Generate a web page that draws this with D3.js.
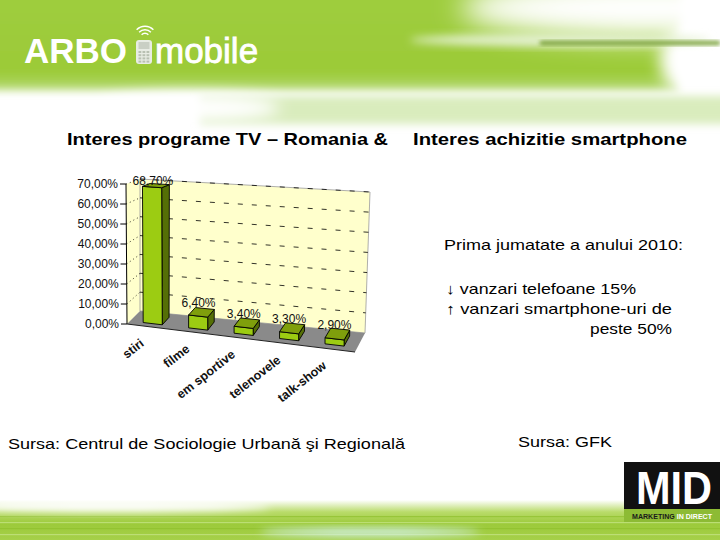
<!DOCTYPE html>
<html>
<head>
<meta charset="utf-8">
<script src="https://cdn.jsdelivr.net/npm/d3@7"></script>
<style>
  html, body { margin: 0; padding: 0; background: #fff; }
  svg { display: block; font-family: "Liberation Sans", Arial, sans-serif; }
</style>
</head>
<body>
<svg id="chart" width="720" height="540"></svg>
<script>
// ---------- data ----------
const categories = ["stiri", "filme", "em sportive", "telenovele", "talk-show"];
const values = [68.7, 6.4, 3.4, 3.3, 2.9];
const valueLabels = ["68,70%", "6,40%", "3,40%", "3,30%", "2,90%"];
const yTickValues = [0, 10, 20, 30, 40, 50, 60, 70];
const yTickLabels = ["0,00%", "10,00%", "20,00%", "30,00%", "40,00%", "50,00%", "60,00%", "70,00%"];
const titleLeft = "Interes programe TV – Romania &";
const titleRight = "Interes achizitie smartphone";
const sideNotes = ["Prima jumatate a anului 2010:", "↓ vanzari telefoane 15%", "↑ vanzari smartphone-uri  de", "peste 50%"];
const sourceLeft = "Sursa: Centrul de Sociologie Urbană şi Regională";
const sourceRight = "Sursa: GFK";

const svg = d3.select("#chart");
const defs = svg.append("defs");

// ---------- background decoration ----------
const blur = (id, s) => defs.append("filter").attr("id", id).attr("x", "-50%").attr("y", "-50%").attr("width", "200%").attr("height", "200%")
  .append("feGaussianBlur").attr("stdDeviation", s);
blur("b2", 2); blur("b4", 4); blur("b8", 8); blur("b14", 14);

const hg = defs.append("linearGradient").attr("id", "hg").attr("x1", 0).attr("x2", 0).attr("y1", 0).attr("y2", 1);
hg.append("stop").attr("offset", "0%").attr("stop-color", "#9fcd3f");
hg.append("stop").attr("offset", "85%").attr("stop-color", "#9ccb38");
hg.append("stop").attr("offset", "100%").attr("stop-color", "#b7da78");

const header = svg.append("g");
header.append("rect").attr("x", -20).attr("y", -20).attr("width", 700).attr("height", 110).attr("fill", "url(#hg)").attr("filter", "url(#b4)");
header.append("ellipse").attr("cx", 650).attr("cy", 8).attr("rx", 190).attr("ry", 30).attr("fill", "#ffffff").attr("filter", "url(#b14)");
header.append("ellipse").attr("cx", 700).attr("cy", 60).attr("rx", 40).attr("ry", 40).attr("fill", "#ffffff").attr("filter", "url(#b8)");
header.append("ellipse").attr("cx", 560).attr("cy", 40).attr("rx", 150).attr("ry", 6).attr("fill", "#e4f1d0").attr("filter", "url(#b4)");
header.append("rect").attr("x", 540).attr("y", 41).attr("width", 180).attr("height", 4).attr("fill", "#6f9a2a").attr("filter", "url(#b2)");
header.append("rect").attr("x", 200).attr("y", 96).attr("width", 540).attr("height", 28).attr("fill", "#d9ecbd").attr("filter", "url(#b4)");
header.append("ellipse").attr("cx", 190).attr("cy", 108).attr("rx", 90).attr("ry", 14).attr("fill", "#ffffff").attr("filter", "url(#b8)");

// logo
const logo = svg.append("g").attr("fill", "#ffffff");
logo.append("text").attr("x", 24).attr("y", 63).attr("font-size", 35).attr("font-weight", "bold").text("ARBO");
logo.append("text").attr("x", 155).attr("y", 63).attr("font-size", 35).attr("stroke", "#fff").attr("stroke-width", 0.8).text("mobile");
logo.append("rect").attr("x", 136).attr("y", 40).attr("width", 16).attr("height", 24).attr("rx", 3).attr("fill", "#e8ece4");
logo.append("rect").attr("x", 138.5).attr("y", 42).attr("width", 11).attr("height", 7).attr("fill", "#c9cfc4");
for (let r = 0; r < 4; r++) for (let c = 0; c < 3; c++)
  logo.append("rect").attr("x", 138.5 + c * 4).attr("y", 51 + r * 3.2).attr("width", 2.8).attr("height", 2).attr("fill", "#b8c0b2");
[4, 7.5, 11].forEach(rr => logo.append("path")
  .attr("d", d3.arc()({ innerRadius: rr, outerRadius: rr + 1.4, startAngle: -0.8, endAngle: 0.8 }))
  .attr("transform", "translate(145,38)").attr("fill", "#ffffff"));

// footer band
const fg = defs.append("linearGradient").attr("id", "fg").attr("x1", 0).attr("x2", 0).attr("y1", 0).attr("y2", 1);
fg.append("stop").attr("offset", "0%").attr("stop-color", "#ffffff");
fg.append("stop").attr("offset", "30%").attr("stop-color", "#b9db6a");
fg.append("stop").attr("offset", "60%").attr("stop-color", "#9cca3a");
fg.append("stop").attr("offset", "100%").attr("stop-color", "#a6d04a");
svg.append("rect").attr("x", 0).attr("y", 500).attr("width", 720).attr("height", 40).attr("fill", "url(#fg)");
[516, 522, 528, 534].forEach((yy, i) => svg.append("rect").attr("x", 0).attr("y", yy).attr("width", 720).attr("height", 1.2)
  .attr("fill", i % 2 ? "#c8e58a" : "#8fbf2c").attr("opacity", 0.7));
svg.append("ellipse").attr("cx", 370).attr("cy", 532).attr("rx", 110).attr("ry", 4).attr("fill", "#d6f3f0").attr("filter", "url(#b4)");
svg.append("ellipse").attr("cx", 110).attr("cy", 506).attr("rx", 160).attr("ry", 6).attr("fill", "#ffffff").attr("filter", "url(#b4)");

// MID logo
const mid = svg.append("g");
mid.append("rect").attr("x", 624).attr("y", 462).attr("width", 96).attr("height", 47).attr("fill", "#111111");
mid.append("text").attr("x", 674).attr("y", 504).attr("text-anchor", "middle").attr("font-size", 46).attr("font-weight", "bold")
  .attr("fill", "#ffffff").attr("textLength", 76).attr("lengthAdjust", "spacingAndGlyphs").text("MID");
mid.append("rect").attr("x", 624).attr("y", 509).attr("width", 96).attr("height", 13).attr("fill", "#8dbb34");
const midT = mid.append("text").attr("x", 632).attr("y", 518.5).attr("font-size", 7).attr("font-weight", "bold")
  .attr("textLength", 80).attr("lengthAdjust", "spacingAndGlyphs");
midT.append("tspan").attr("fill", "#1a1a1a").text("MARKETING ");
midT.append("tspan").attr("fill", "#ffffff").text("IN DIRECT");

// ---------- texts ----------
svg.append("text").attr("x", 67).attr("y", 145).attr("font-size", 17).attr("font-weight", "bold")
  .attr("textLength", 321).attr("lengthAdjust", "spacingAndGlyphs").text(titleLeft);
svg.append("text").attr("x", 413).attr("y", 145).attr("font-size", 17).attr("font-weight", "bold")
  .attr("textLength", 274).attr("lengthAdjust", "spacingAndGlyphs").text(titleRight);

const noteGeom = [[444, 250, 239], [446, 294, 190], [446, 314, 226], [590, 334, 82]];
sideNotes.forEach((t, i) => svg.append("text").attr("x", noteGeom[i][0]).attr("y", noteGeom[i][1]).attr("font-size", 15)
  .attr("textLength", noteGeom[i][2]).attr("lengthAdjust", "spacingAndGlyphs").text(t));

svg.append("text").attr("x", 8).attr("y", 449).attr("font-size", 15)
  .attr("textLength", 397).attr("lengthAdjust", "spacingAndGlyphs").text(sourceLeft);
svg.append("text").attr("x", 518).attr("y", 447).attr("font-size", 15)
  .attr("textLength", 94).attr("lengthAdjust", "spacingAndGlyphs").text(sourceRight);

// ---------- 3D column chart ----------
const x = d3.scaleBand().domain(categories).range([0, 1]).paddingInner(0.58).paddingOuter(0.29);
const y = d3.scaleLinear().domain([0, 70]).range([0, 1]);

const corners = {
  b: { fl: [127, 324], fr: [355, 352], bl: [140, 311], br: [365, 333] },
  t: { fl: [126, 184], fr: [354, 201], bl: [140, 179], br: [370, 192] }
};
const lerp = (a, b, t) => [a[0] + (b[0] - a[0]) * t, a[1] + (b[1] - a[1]) * t];
function bil(c, u, d) { return lerp(lerp(c.fl, c.fr, u), lerp(c.bl, c.br, u), d); }
function P(u, d, t) { return lerp(bil(corners.b, u, d), bil(corners.t, u, d), t); }
const poly = pts => "M" + pts.map(p => p.join(",")).join("L") + "Z";

const chart = svg.append("g");
chart.append("path").attr("d", poly([P(0, 0, 0), P(0, 1, 0), P(0, 1, 1), P(0, 0, 1)])).attr("fill", "#ffffcc");
chart.append("path").attr("d", poly([P(0, 1, 0), P(1, 1, 0), P(1, 1, 1), P(0, 1, 1)])).attr("fill", "#ffffcc")
  .attr("stroke", "#9a9a9a").attr("stroke-width", 0.8);
chart.append("path").attr("d", poly([P(0, 0, 0), P(1, 0, 0), P(1, 1, 0), P(0, 1, 0)])).attr("fill", "#8a8a8a");

yTickValues.filter(v => v > 0).forEach(v => {
  const t = y(v);
  chart.append("line").attr("x1", P(0, 0, t)[0]).attr("y1", P(0, 0, t)[1]).attr("x2", P(0, 1, t)[0]).attr("y2", P(0, 1, t)[1])
    .attr("stroke", "#000").attr("stroke-width", 0.8).attr("stroke-dasharray", "1,3");
  chart.append("line").attr("x1", P(0, 1, t)[0]).attr("y1", P(0, 1, t)[1]).attr("x2", P(1, 1, t)[0]).attr("y2", P(1, 1, t)[1])
    .attr("stroke", "#000").attr("stroke-width", 0.8).attr("stroke-dasharray", "5,9");
});

chart.append("line").attr("x1", P(0, 0, 0)[0]).attr("y1", P(0, 0, 0)[1]).attr("x2", P(0, 0, 1)[0]).attr("y2", P(0, 0, 1)[1])
  .attr("stroke", "#000").attr("stroke-width", 1);
chart.append("line").attr("x1", P(0, 0, 0)[0]).attr("y1", P(0, 0, 0)[1]).attr("x2", P(1, 0, 0)[0]).attr("y2", P(1, 0, 0)[1])
  .attr("stroke", "#222").attr("stroke-width", 1);
yTickValues.forEach((v, i) => {
  const p = P(0, 0, y(v));
  chart.append("line").attr("x1", p[0] - 6).attr("y1", p[1]).attr("x2", p[0]).attr("y2", p[1]).attr("stroke", "#000").attr("stroke-width", 1);
  chart.append("text").attr("x", p[0] - 8).attr("y", p[1]).attr("dy", "0.35em").attr("text-anchor", "end")
    .attr("font-size", 12).attr("fill", "#111").text(yTickLabels[i]);
});

const d0 = 0.23, d1 = 0.77;
categories.forEach((c, i) => {
  const u0 = x(c), u1 = x(c) + x.bandwidth(), t = y(values[i]);
  const g = chart.append("g").attr("stroke", "#000").attr("stroke-width", 0.9).attr("stroke-linejoin", "round");
  g.append("path").attr("d", poly([P(u1, d0, 0), P(u1, d1, 0), P(u1, d1, t), P(u1, d0, t)])).attr("fill", "#556f06");
  g.append("path").attr("d", poly([P(u0, d0, 0), P(u1, d0, 0), P(u1, d0, t), P(u0, d0, t)])).attr("fill", "#9ccc12");
  g.append("path").attr("d", poly([P(u0, d0, t), P(u1, d0, t), P(u1, d1, t), P(u0, d1, t)])).attr("fill", "#7f9f0c");
  const lp = P((u0 + u1) / 2, 0.5, t);
  chart.append("text").attr("x", lp[0] - 3).attr("y", Math.max(lp[1] - 9, 181)).attr("dy", "0.35em")
    .attr("text-anchor", "middle").attr("font-size", 12).attr("fill", "#111").text(valueLabels[i]);
  const cp = P(x(c) + x.bandwidth() / 2, 0, 0);
  chart.append("text").attr("transform", `translate(${cp[0] - 5},${cp[1] + 18}) rotate(-38)`)
    .attr("text-anchor", "end").attr("font-size", 12.5).attr("font-weight", "bold").attr("fill", "#111").text(c);
});
</script>
</body>
</html>
